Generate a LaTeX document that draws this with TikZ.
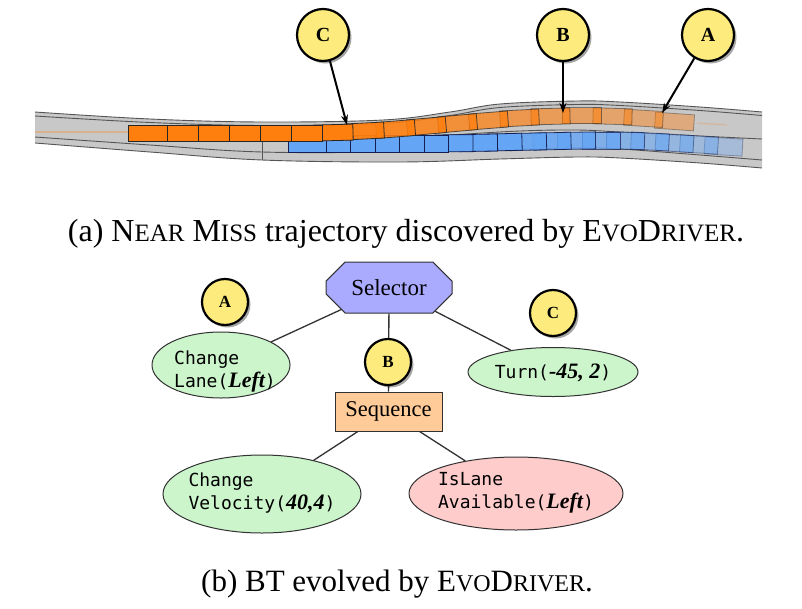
\documentclass[tikz,border=0pt]{standalone}
\usepackage{fontspec}
\usepackage{graphicx}
\setmainfont{Liberation Serif}
\newfontfamily\monof{DejaVu Sans Mono}
\usetikzlibrary{shapes.geometric,shapes.misc,shadows,arrows.meta}
\definecolor{roadfill}{RGB}{200,200,200}
\definecolor{roadline}{RGB}{85,85,85}
\definecolor{carorange}{RGB}{255,127,14}
\definecolor{carblue}{RGB}{100,165,245}
\definecolor{bluebord}{RGB}{20,30,80}
\definecolor{markyellow}{RGB}{253,236,125}
\definecolor{selfill}{RGB}{170,170,255}
\definecolor{seqfill}{RGB}{255,204,153}
\definecolor{actfill}{RGB}{204,245,204}
\definecolor{condfill}{RGB}{255,204,204}
\definecolor{edgecol}{RGB}{50,50,50}
\newcommand\argbi[1]{{\rmfamily\fontsize{22}{22}\selectfont\bfseries\itshape #1}}
\newcommand\fsca[1]{{\fontsize{25}{25}\selectfont #1}}
\newcommand\fscb[1]{{\fontsize{24}{24}\selectfont #1}}
\begin{document}
\begin{tikzpicture}[x=1pt,y=-1pt,
  roadln/.style={draw=roadline, line width=0.9pt},
  ocar/.style={draw=black!85, line width=0.8pt, fill=carorange},
  bcar/.style={draw=bluebord, line width=0.8pt, fill=carblue},
  marker/.style={circle, draw=black, line width=2.2pt, fill=markyellow, inner sep=0pt,
     drop shadow={shadow xshift=2.5pt, shadow yshift=-2.5pt, fill=black, opacity=0.35}},
  ptr/.style={line width=2pt, -{Stealth[length=10pt,width=7pt]}},
  tedge/.style={draw=edgecol, line width=1.3pt},
  leaf/.style={ellipse, draw=edgecol, line width=1pt, inner sep=0pt},
  mono/.style={font=\monof\fontsize{18}{23}\selectfont, align=left, inner sep=0pt},
]
\useasboundingbox (0,0) rectangle (802,608);

% ---------- road ----------
\fill[roadfill] plot[smooth, tension=0.6] coordinates {(35,112) (150,119) (262,122) (383,120) (450,112) (500,104) (577,101) (620,102) (700,107) (762,112)}
  -- plot[smooth, tension=0.6] coordinates {(762,168) (700,163) (620,158) (577,157) (500,159) (400,162) (262,160) (150,152) (35,143)} -- cycle;
\draw[roadln] plot[smooth, tension=0.6] coordinates {(35,112) (150,119) (262,122) (383,120) (450,112) (500,104) (577,101) (620,102) (700,107) (762,112)};
\draw[roadln] plot[smooth, tension=0.6] coordinates {(35,116) (150,122.5) (262,125.5) (383,123.5) (450,115.5) (500,107.5) (577,104.5) (620,105.5) (700,110.5) (762,115.5)};
\draw[roadln] plot[smooth, tension=0.6] coordinates {(262,141) (383,139) (450,135) (520,131) (577,130) (620,132) (700,136) (762,139)};
\draw[roadln] plot[smooth, tension=0.6] coordinates {(35,137) (150,145) (262,152) (400,152) (500,150) (577,148) (620,149) (700,155) (762,160)};
\draw[roadln] plot[smooth, tension=0.6] coordinates {(35,143) (150,152) (262,160) (400,162) (500,159) (577,157) (620,158) (700,163) (762,168)};
\draw[roadln] (262,125) -- (262,160);
\draw[carorange, opacity=0.3, line width=1.2pt] (35,132) -- (128,132);
\draw[carorange, opacity=0.25, line width=1.2pt] (697,123) -- (727,125);

% ---------- blue trajectory ----------
\foreach \cx/\cy/\a/\op in {723.5/146.5/-3.5/0.35, 699/144.5/-3.5/0.42, 674.5/143/-3.5/0.5,
  650/141.5/-3/0.57, 625.5/140.7/-1.5/0.65, 601/140.5/0/0.72, 576.5/140.7/1/0.8,
  552/141.2/1.5/0.87, 527.5/141.7/1.5/0.93, 503/142.2/1.5/1, 478.5/142.8/1/1,
  454/143.3/0.5/1, 429.5/143.5/0/1, 405/143.5/0/1, 380.5/143.5/0/1, 356/143.5/0/1,
  331.5/143.5/0/1, 307/143.5/0/1}
{ \draw[bcar, opacity=\op, rotate around={\a:(\cx,\cy)}] (\cx-19,\cy-8.5) rectangle (\cx+19,\cy+8.5); }

% ---------- orange trajectory ----------
\foreach \cx/\cy/\a/\op in {674.5/121.5/-4/0.40, 643.5/118.3/-3.5/0.45, 612.5/116.3/-1.5/0.50,
  581.5/115.8/0/0.55, 550.5/116.4/1.5/0.60, 519.5/118/3/0.66, 488.5/120.5/4.5/0.72,
  457.5/123.3/5/0.77, 426.5/126.2/5/0.83, 395.5/129/4.5/0.88, 364.5/131/3/0.94,
  333.5/132.6/1.5/1, 302.5/133/0/1, 271.5/133/0/1, 240.5/133/0/1, 209.5/133/0/1,
  178.5/133/0/1, 147.5/133/0/1}
{ \draw[ocar, opacity=\op, rotate around={\a:(\cx,\cy)}] (\cx-19.5,\cy-8) rectangle (\cx+19.5,\cy+8); }

% ---------- top markers ----------
\node[marker, minimum size=52pt, font=\bfseries\fontsize{20}{20}\selectfont] (mC) at (323,35) {C};
\node[marker, minimum size=52pt, font=\bfseries\fontsize{20}{20}\selectfont] (mB) at (563,35) {B};
\node[marker, minimum size=52pt, font=\bfseries\fontsize{20}{20}\selectfont] (mA) at (708,35) {A};
\coordinate (tC) at (347,125);
\coordinate (tB) at (563,113);
\coordinate (tA) at (662,113);
\draw[ptr] (mC) -- (tC);
\draw[ptr] (mB) -- (tB);
\draw[ptr] (mA) -- (tA);

% ---------- caption (a) ----------
\node[anchor=base, inner sep=0pt, font=\fontsize{32}{32}\selectfont] (capa) at (406,241)
  {(a) N\fsca{EAR} M\fsca{ISS} trajectory discovered by E\fsca{VO}D\fsca{RIVER}.};

% ---------- behaviour tree ----------
\node[chamfered rectangle, chamfered rectangle xsep=17pt, chamfered rectangle ysep=11pt, draw=edgecol, line width=1pt, fill=selfill,
  minimum width=126pt, minimum height=51pt, inner sep=0pt, font=\fontsize{23}{23}\selectfont] (sel) at (389,287.5) {Selector};
\node[rectangle, draw=edgecol, line width=1pt, fill=seqfill, minimum width=107pt, minimum height=39pt,
  inner sep=0pt, font=\fontsize{22.5}{22.5}\selectfont] (seq) at (388.5,411.5) {Sequence};
\node[leaf, fill=actfill, minimum width=138pt, minimum height=66pt] (cl) at (221,365) {};
\node[mono] (clt) at (225,371) {Change\\Lane(\argbi{Left})};
\node[leaf, fill=actfill, minimum width=170pt, minimum height=49pt] (turn) at (553,372) {};
\node[mono] (turnt) at (553,373) {Turn(\argbi{-45, 2})};
\node[leaf, fill=actfill, minimum width=198pt, minimum height=78pt] (cv) at (262,494) {};
\node[mono] (cvt) at (262,493) {Change\\Velocity(\argbi{40,4})};
\node[leaf, fill=condfill, minimum width=214pt, minimum height=73pt] (isl) at (516,493.5) {};
\node[mono] (islt) at (516,493) {IsLane\\Available(\argbi{Left})};

\draw[tedge] (sel) -- (cl);
\draw[tedge] (sel) -- (turn);
\draw[tedge] (sel) -- (seq);
\draw[tedge] (seq) -- (cv);
\draw[tedge] (seq) -- (isl);

\node[marker, minimum size=46pt, font=\bfseries\fontsize{17}{17}\selectfont] (tA) at (225,302) {A};
\node[marker, minimum size=46pt, font=\bfseries\fontsize{17}{17}\selectfont] (tB) at (388,362) {B};
\node[marker, minimum size=46pt, font=\bfseries\fontsize{17}{17}\selectfont] (tC) at (553,313) {C};

% ---------- caption (b) ----------
\node[anchor=base, inner sep=0pt, font=\fontsize{31}{31}\selectfont] (capb) at (397,591)
  {(b) BT evolved by E\fscb{VO}D\fscb{RIVER}.};
\end{tikzpicture}
\end{document}
